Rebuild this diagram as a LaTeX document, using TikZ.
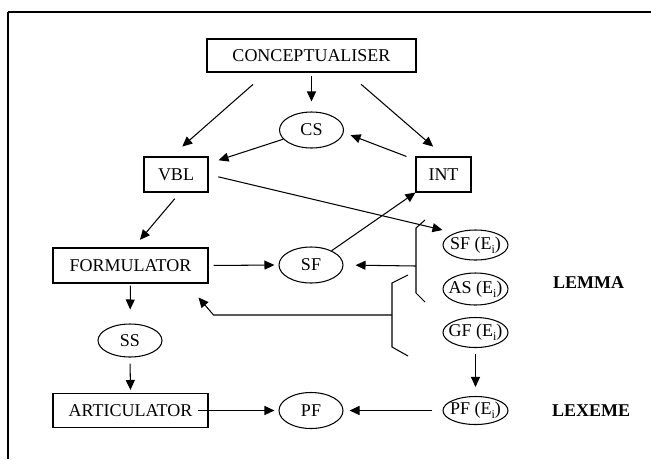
\documentclass[tikz,border=0pt]{standalone}
\usepackage{fontspec}
\setmainfont{Liberation Serif}
\usetikzlibrary{arrows.meta,shapes.geometric}
% keeps the oval sizes fixed whatever the label width
\newcommand{\ovtext}[1]{\makebox[0pt]{#1}}
% lowered index letter
\newcommand{\idx}[1]{\raisebox{-0.45ex}{\fontsize{12}{12}\selectfont #1}}
\begin{document}
\begin{tikzpicture}[x=1pt,y=-1pt,
  every node/.style={font=\fontsize{18}{21}\selectfont},
  box/.style={draw, line width=1.05pt, rectangle, inner sep=0pt},
  oval/.style={draw, line width=1.05pt, ellipse, inner sep=0pt,
               minimum width=64pt, minimum height=36pt},
  lexoval/.style={oval, minimum width=65pt, minimum height=30pt},
  link/.style={line width=1.05pt, -{Triangle[length=10pt,width=9pt]}},
  plain/.style={line width=1.05pt},
  tag/.style={anchor=west, inner sep=0pt, font=\fontsize{18}{21}\selectfont\bfseries}]
\useasboundingbox (0,0) rectangle (651,459);

% frame
\draw[line width=1.7pt] (7.5,12) -- (651,12);
\draw[line width=1.2pt] (8,12) -- (8,459);

% processing components and their outputs
\node[box, minimum width=209pt, minimum height=33pt] (concept) at (311.5,55.5) {CONCEPTUALISER};
\node[oval] (cs) at (311.5,130) {\ovtext{CS}};
\node[box, minimum width=64pt, minimum height=35pt] (vbl) at (176,174.5) {VBL};
\node[box, minimum width=55pt, minimum height=35pt] (int) at (443.5,174.5) {INT};
\node[box, minimum width=155pt, minimum height=35pt] (form) at (130.5,265.5) {FORMULATOR};
\node[oval] (sf) at (311,265) {\ovtext{SF}};
\node[oval, minimum height=33pt] (ss) at (130,340.5) {\ovtext{SS}};
\node[box, minimum width=155pt, minimum height=34pt] (artic) at (130.5,410.5) {ARTICULATOR};
\node[oval] (pf) at (311,410.5) {\ovtext{PF}};

% lexical entry
\node[lexoval] (sfe) at (475.5,245) {\ovtext{SF (E\idx{i})}};
\node[lexoval, minimum height=32pt] (ase) at (475.5,289) {\ovtext{AS (E\idx{i})}};
\node[lexoval] (gfe) at (475.5,332.5) {\ovtext{GF (E\idx{i})}};
\node[lexoval, minimum height=28pt] (pfe) at (475.5,410.5) {\ovtext{PF (E\idx{i})}};
\node[tag] (lemma) at (553,283) {LEMMA};
\node[tag] (lexeme) at (552,410.5) {LEXEME};

% brackets grouping the lemma parts
\draw[plain] (425,220) -- (416,228) -- (416,293) -- (425,302);
\coordinate (ubr) at (416,266);
\draw[plain] (408,275) -- (392,283) -- (392,347) -- (408,356);
\coordinate (lbr) at (392,315);

% connectors
\draw[link, shorten <=18pt, shorten >=15pt] ([xshift=-45pt]concept.south) -- ([xshift=-5pt]vbl.north);
\draw[link, shorten <=3pt, shorten >=10pt] (concept.south) -- (cs.north);
\draw[link, shorten <=18pt, shorten >=15pt] ([xshift=36pt]concept.south) -- ([xshift=1pt]int.north);
\draw[link, shorten >=10.5pt] (cs) -- ([yshift=11pt]vbl.east);
\draw[link, shorten >=7pt] ([xshift=-9pt]int.north west) -- ([yshift=-2.6pt]cs.east);
\draw[link, shorten <=10pt] (vbl.east) -- ([yshift=15pt]sfe.west);
\draw[link, shorten <=8pt, shorten >=10pt] ([xshift=4pt]vbl.south) -- ([xshift=3pt]form.north);
\draw[link, shorten <=5pt, shorten >=4pt] (form.east) -- (sf.west);
\draw[link] (sf) -- (int.south west);
\draw[link, shorten >=12pt] (ubr) -- (sf.east);
\draw[link] (lbr) -- ([xshift=5pt]form.south east |- lbr) -- ([xshift=-10pt,yshift=-14pt]form.south east);
\draw[link, shorten <=2pt, shorten >=14pt] (form.south) -- (ss.north);
\draw[link, shorten <=6pt, shorten >=3pt] (ss.south) -- (artic.north);
\draw[link, shorten >=4pt] ([xshift=-11pt]artic.east) -- (pf.west);
\draw[link, shorten <=5.5pt, shorten >=9pt] (gfe.south) -- (pfe.north);
\draw[link, shorten <=10pt, shorten >=6pt] (pfe.west) -- (pf.east);
\end{tikzpicture}
\end{document}
